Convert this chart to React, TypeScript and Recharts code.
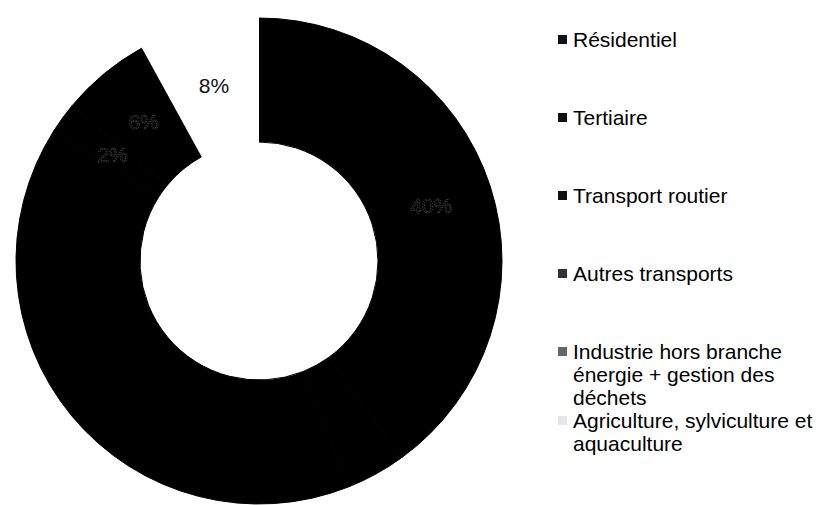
import { Cell, Legend, Pie, PieChart } from "recharts";

const categories = [
  "Résidentiel",
  "Tertiaire",
  "Transport routier",
  "Autres transports",
  "Industrie hors branche énergie + gestion des déchets",
  "Agriculture, sylviculture et aquaculture",
];
const shares = [40, 4, 40, 2, 6, 8];
const sliceColors = ["#000000", "#000000", "#000000", "#000000", "#000000", "#ffffff"];
const legendColors = ["#111111", "#111111", "#111111", "#333333", "#666666", "#e6e6e6"];
// labels lost in the scan of the black area
const hiddenLabels = ["Tertiaire", "Transport routier"];

const data = categories.map((name, i) => ({ name, value: shares[i] }));

const RADIAN = Math.PI / 180;
const FONT = "'Liberation Sans', Arial, sans-serif";

function renderLabel(props: any) {
  const { cx, cy, midAngle, innerRadius, outerRadius, index, value } = props;
  if (hiddenLabels.includes(categories[index])) return null;
  const r = (innerRadius + outerRadius) / 2;
  const x = cx + r * Math.cos(-midAngle * RADIAN);
  const y = cy + r * Math.sin(-midAngle * RADIAN);
  const onLight = sliceColors[index] === "#ffffff";
  return (
    <text
      x={x}
      y={y}
      textAnchor="middle"
      dominantBaseline="central"
      fontFamily={FONT}
      fontSize={21}
      fill={onLight ? "#111" : "#000"}
      stroke={onLight ? "none" : "#6e6e6e"}
      strokeWidth={onLight ? 0 : 0.5}
      strokeDasharray={onLight ? undefined : "1.5 1"}
    >
      {`${value}%`}
    </text>
  );
}

function LegendList() {
  return (
    <div style={{ fontFamily: FONT, fontSize: 21, lineHeight: "23px", color: "#000" }}>
      {categories.map((name, i) => (
        <div
          key={name}
          style={{
            display: "flex",
            alignItems: "flex-start",
            marginBottom: i < 4 ? 55 : 0,
          }}
        >
          <span
            style={{
              display: "inline-block",
              width: 9,
              height: 9,
              marginTop: 7,
              marginRight: 6,
              flexShrink: 0,
              background: legendColors[i],
            }}
          />
          <span style={{ width: 240 }}>{name}</span>
        </div>
      ))}
    </div>
  );
}

export default function App() {
  return (
    <div style={{ position: "absolute", left: 0, top: 0, background: "#fff" }}>
      <PieChart width={817} height={505}>
        <Pie
          data={data}
          dataKey="value"
          nameKey="name"
          cx={254}
          cy={256}
          innerRadius={119}
          outerRadius={243}
          startAngle={90}
          endAngle={-270}
          label={renderLabel}
          labelLine={false}
          isAnimationActive={false}
        >
          {data.map((d, i) => (
            <Cell
              key={d.name}
              fill={sliceColors[i]}
              stroke={sliceColors[i] === "#ffffff" ? "none" : sliceColors[i]}
              strokeWidth={1}
            />
          ))}
        </Pie>
        <Legend
          layout="vertical"
          verticalAlign="top"
          align="right"
          content={() => <LegendList />}
          wrapperStyle={{ left: 558, top: 28, width: 259 }}
        />
      </PieChart>
    </div>
  );
}
